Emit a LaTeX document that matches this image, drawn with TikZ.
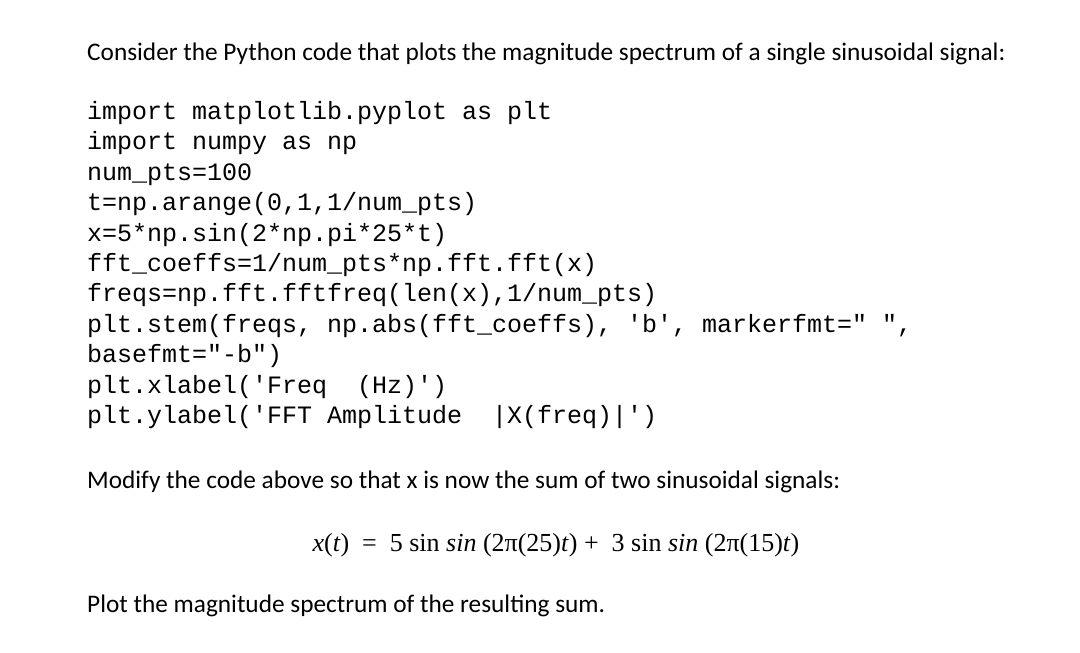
\documentclass[tikz,border=0pt]{standalone}
\usepackage{fontspec}
\setmainfont{Carlito}
\setmonofont{Liberation Mono}
\newfontfamily\eqfont{Liberation Serif}
\begin{document}
\begin{tikzpicture}[x=1pt,y=-1pt,
  txt/.style={anchor=base west,inner sep=0pt,font=\fontsize{25.3}{30}\selectfont},
  code/.style={anchor=base west,inner sep=0pt,font=\fontsize{25}{30}\ttfamily}]
\useasboundingbox[fill=white] (0,0) rectangle (1080,653);
\node[txt] (l1) at (87,60) {Consider the Python code that plots the magnitude spectrum of a single sinusoidal signal:};
\foreach \t [count=\i] in {
 {import matplotlib.pyplot as plt},
 {import numpy as np},
 {num\_pts=100},
 {t=np.arange(0,1,1/num\_pts)},
 {x=5*np.sin(2*np.pi*25*t)},
 {fft\_coeffs=1/num\_pts*np.fft.fft(x)},
 {freqs=np.fft.fftfreq(len(x),1/num\_pts)},
 {plt.stem(freqs,\ np.abs(fft\_coeffs),\ 'b',\ markerfmt="\ ",},
 {basefmt="-b")},
 {plt.xlabel('Freq\ \ (Hz)')},
 {plt.ylabel('FFT\ Amplitude\ \ |X(freq)|')}}
 \node[code] (c\i) at (87,{89+\i*30.4}) {\t};
\node[txt] (l2) at (87,488) {Modify the code above so that x is now the sum of two sinusoidal signals:};
\node[anchor=base,inner sep=0pt,font=\fontsize{26}{30}\eqfont] (eq) at (556,551)
 {\textit{x}(\textit{t})\ \ =\ \ 5 sin \textit{sin} (2π(25)\textit{t}) +\ \ 3 sin \textit{sin} (2π(15)\textit{t})};
\node[txt] (l3) at (87,612) {Plot the magnitude spectrum of the resulting sum.};
\end{tikzpicture}
\end{document}
